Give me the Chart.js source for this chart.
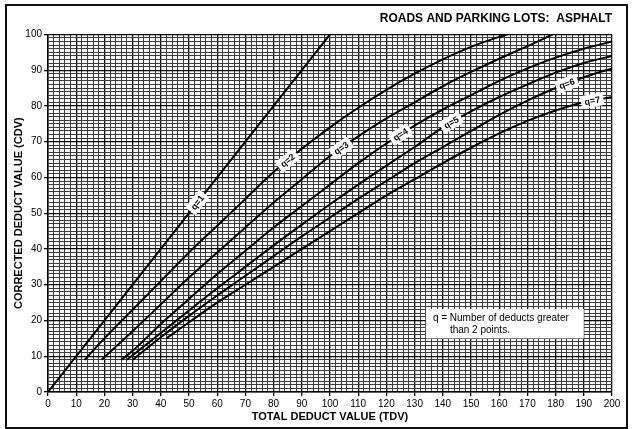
<!DOCTYPE html>
<html>
<head>
<meta charset="utf-8">
<title>CDV - Roads and Parking Lots: Asphalt</title>
<script src="https://cdn.jsdelivr.net/npm/chart.js@4.4.0/dist/chart.umd.min.js"></script>
<style>
body { margin: 0; background: #fff; }
#wrap { width: 632px; height: 429px; }
</style>
</head>
<body>
<div id="wrap"><canvas id="MyChart" width="632" height="429"></canvas></div>
<script>
// curve values (TDV -> CDV)
var q1Tdv = [0, 100];
var q1Cdv = [0, 100];
var q2Tdv = [13, 20, 30, 40, 50, 60, 70, 80, 90, 100, 110, 120, 130, 140, 150, 160, 163];
var q2Cdv = [9, 15, 23, 31, 39, 46.5, 54, 61.5, 68, 74, 79.5, 84.5, 89, 93, 96.5, 99.3, 100];
var q3Tdv = [19, 30, 40, 50, 60, 70, 80, 90, 100, 110, 120, 130, 140, 150, 160, 170, 179];
var q3Cdv = [9, 17, 24.5, 32, 39, 46, 53, 59.5, 66, 71.5, 76.5, 81, 85.5, 89.5, 93.2, 96.7, 100];
var q4Tdv = [26, 30, 40, 50, 60, 70, 80, 90, 100, 110, 120, 130, 140, 150, 160, 170, 180, 190, 200];
var q4Cdv = [9, 11.5, 19, 26, 33, 39.5, 46, 52, 58, 64, 69.5, 74.5, 79, 83, 87, 90.5, 93.5, 96, 98];
var q5Tdv = [28, 40, 50, 60, 70, 80, 90, 100, 110, 120, 130, 140, 150, 160, 170, 180, 190, 200];
var q5Cdv = [9, 16.5, 22.8, 29, 35, 41, 46.8, 52.5, 58, 63.3, 68.5, 74, 78.5, 82.5, 86, 89.3, 92, 94];
var q6Tdv = [30, 40, 50, 60, 70, 80, 90, 100, 110, 120, 130, 140, 150, 160, 170, 180, 190, 200];
var q6Cdv = [9, 15.3, 21.3, 27, 32.5, 38, 43.5, 48.8, 54, 59, 64, 68.5, 73, 77.5, 81.5, 85, 88, 90.5];
var q7Tdv = [42, 50, 60, 70, 80, 90, 100, 110, 120, 130, 140, 150, 160, 170, 180, 190, 200];
var q7Cdv = [15, 19.5, 25, 30, 35, 40, 45, 50, 55, 59.5, 64, 68.3, 72.3, 75.8, 78.7, 81, 82.5];

var curveNames = ["q=1", "q=2", "q=3", "q=4", "q=5", "q=6", "q=7"];
var labelTdv = [53, 85, 104, 125, 143, 184, 193];   // where each q label sits on its curve
var noteLines = ["q = Number of deducts greater", "than 2 points."];

var FONT = '"Liberation Sans Narrow", "Liberation Sans", Arial, sans-serif';

function pts(xs, ys) {
	var out = [];
	for (var i = 0; i < xs.length; i++) out.push({ x: xs[i], y: ys[i] });
	return out;
}

var series = [pts(q1Tdv, q1Cdv), pts(q2Tdv, q2Cdv), pts(q3Tdv, q3Cdv), pts(q4Tdv, q4Cdv),
	pts(q5Tdv, q5Cdv), pts(q6Tdv, q6Cdv), pts(q7Tdv, q7Cdv)];

var datasets = series.map(function(d, i) {
	return {
		label: curveNames[i],
		data: d,
		borderColor: "#000",
		borderWidth: 2,
		pointRadius: 0,
		fill: false,
		cubicInterpolationMode: "monotone"
	};
});

function isMajor(c) { return c.tick && c.tick.value % 10 === 0; }

// white q=n tags drawn along the curves
var curveLabels = {
	id: "curveLabels",
	afterDatasetsDraw: function(chart) {
		var ctx = chart.ctx, xs = chart.scales.x, ys = chart.scales.y;
		chart.data.datasets.forEach(function(ds, i) {
			var t = labelTdv[i], p = ds.data, k = 0;
			while (k < p.length - 2 && p[k + 1].x < t) k++;
			var a = p[k], b = p[k + 1];
			var v = a.y + (t - a.x) / (b.x - a.x) * (b.y - a.y);
			var px = xs.getPixelForValue(t), py = ys.getPixelForValue(v);
			var ang = Math.atan2(ys.getPixelForValue(b.y) - ys.getPixelForValue(a.y),
				xs.getPixelForValue(b.x) - xs.getPixelForValue(a.x));
			ctx.save();
			ctx.translate(px, py);
			ctx.rotate(ang);
			ctx.font = "bold 9px " + FONT;
			var w = ctx.measureText(ds.label).width + 7;
			ctx.fillStyle = "#fff";
			ctx.beginPath();
			ctx.roundRect(-w / 2, -6.5, w, 13, 2);
			ctx.fill();
			ctx.fillStyle = "#000";
			ctx.textAlign = "center";
			ctx.textBaseline = "middle";
			ctx.fillText(ds.label, 0, 0.5);
			ctx.restore();
		});
	}
};

// note box + outer frame
var noteBox = {
	id: "noteBox",
	beforeDraw: function(chart) {
		var ctx = chart.ctx;
		ctx.save();
		ctx.fillStyle = "#fff";
		ctx.fillRect(0, 0, chart.width, chart.height);
		ctx.restore();
	},
	afterDraw: function(chart) {
		var ctx = chart.ctx, xs = chart.scales.x, ys = chart.scales.y;
		var l = xs.getPixelForValue(134), r = xs.getPixelForValue(190);
		var t = ys.getPixelForValue(23.2), b = ys.getPixelForValue(15);
		ctx.save();
		ctx.fillStyle = "#fff";
		ctx.fillRect(l, t, r - l, b - t);
		ctx.fillStyle = "#000";
		ctx.font = "10px " + FONT;
		ctx.textBaseline = "middle";
		ctx.fillText(noteLines[0], l + 7, t + 9);
		ctx.fillText(noteLines[1], l + 24, t + 21);
		ctx.strokeStyle = "#111";
		ctx.lineWidth = 2;
		ctx.strokeRect(6, 5, 621, 423);
		ctx.restore();
	}
};

var ctx = document.getElementById("MyChart").getContext("2d");
var chart = new Chart(ctx, {
	type: "line",
	data: { datasets: datasets },
	plugins: [curveLabels, noteBox],
	options: {
		responsive: false,
		animation: false,
		layout: { padding: { left: 8, right: 20, top: 0, bottom: 4 } },
		plugins: {
			legend: { display: false },
			tooltip: { enabled: false },
			title: {
				display: true,
				text: "ROADS AND PARKING LOTS:  ASPHALT",
				align: "end",
				color: "#000",
				font: { family: FONT, size: 12, weight: "bold" },
				padding: { top: 11, bottom: 9 }
			}
		},
		scales: {
			x: {
				type: "linear",
				min: 0,
				max: 200,
				afterFit: function(s) { s.height = 33; },
				ticks: {
					stepSize: 2,
					autoSkip: false,
					maxRotation: 0,
					padding: 2,
					color: "#000",
					font: { family: FONT, size: 10 },
					callback: function(v) { return v % 10 === 0 ? v : ""; }
				},
				grid: {
					color: function(c) { return isMajor(c) ? "#000" : "#3c3c3c"; },
					lineWidth: function(c) { return isMajor(c) ? 1.3 : 1; },
					tickLength: 4,
					tickColor: function(c) { return isMajor(c) ? "#000" : "rgba(0,0,0,0)"; }
				},
				border: { color: "#000", width: 1.5 },
				title: {
					display: true,
					text: "TOTAL DEDUCT VALUE (TDV)",
					color: "#000",
					font: { family: FONT, size: 11, weight: "bold" },
					padding: { top: 0, bottom: 1 }
				}
			},
			y: {
				min: 0,
				max: 100,
				afterFit: function(s) { s.width = 40; },
				ticks: {
					stepSize: 1,
					autoSkip: false,
					padding: 2,
					color: "#000",
					font: { family: FONT, size: 10 },
					callback: function(v) { return v % 10 === 0 ? v : ""; }
				},
				grid: {
					color: function(c) { return isMajor(c) ? "#000" : "#3c3c3c"; },
					lineWidth: function(c) { return isMajor(c) ? 1.3 : 1; },
					tickLength: 4,
					tickColor: function(c) { return isMajor(c) ? "#000" : "rgba(0,0,0,0)"; }
				},
				border: { color: "#000", width: 1.5 },
				title: {
					display: true,
					text: "CORRECTED DEDUCT VALUE (CDV)",
					color: "#000",
					font: { family: FONT, size: 11, weight: "bold" },
					padding: { top: 4, bottom: 2 }
				}
			}
		}
	}
});
</script>
</body>
</html>
